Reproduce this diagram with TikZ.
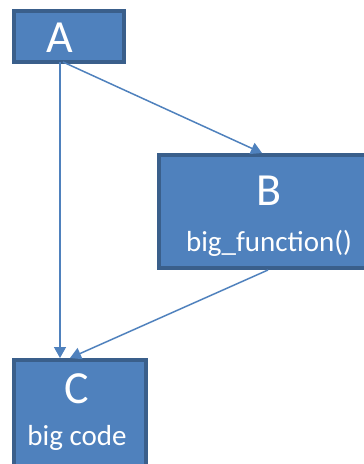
\documentclass[tikz,border=0pt]{standalone}
\usepackage{fontspec}
\setmainfont{Carlito}
\usetikzlibrary{arrows.meta}
\definecolor{boxfill}{HTML}{4F81BD}
\definecolor{boxedge}{HTML}{3A5F8B}
\definecolor{lineblue}{HTML}{4F81BD}
\begin{document}
\begin{tikzpicture}[x=1pt,y=-1pt,
  box/.style={draw=boxedge,fill=boxfill,line width=4pt,inner sep=0pt,outer sep=0pt,anchor=north west},
  big/.style={text=white,font=\fontsize{46}{46}\selectfont,anchor=base,inner sep=0pt},
  small/.style={text=white,font=\fontsize{29}{29}\selectfont,anchor=base,inner sep=0pt},
  arr/.style={draw=lineblue,line width=1.5pt,-{Triangle[width=12pt,length=11pt]}}]
\useasboundingbox (0,0) rectangle (364,464);
\clip (0,0) rectangle (364,464);
\node[box,minimum width=110pt,minimum height=51pt] (A) at (14,11) {};
\node[box,minimum width=215pt,minimum height=113pt] (B) at (159,155) {};
\node[box,minimum width=132pt,minimum height=112pt] (C) at (14,360) {};
\node[big] (Al) at (59.5,52) {A};
\node[big] (Bl) at (269,205) {B};
\node[small] (Bt) at (269,251) {big\_function()};
\node[big] (Cl) at (77,403) {C};
\node[small] (Ct) at (77,445) {big code};
\draw[arr] ([xshift=46pt]A.south west) -- ([xshift=46pt,yshift=2pt]C.north west);
\draw[arr] ([xshift=49pt]A.south west) -- ([xshift=103pt,yshift=2pt]B.north west);
\draw[arr] ([xshift=109pt,yshift=-2pt]B.south west) -- ([xshift=56pt,yshift=2pt]C.north west);
\end{tikzpicture}
\end{document}
